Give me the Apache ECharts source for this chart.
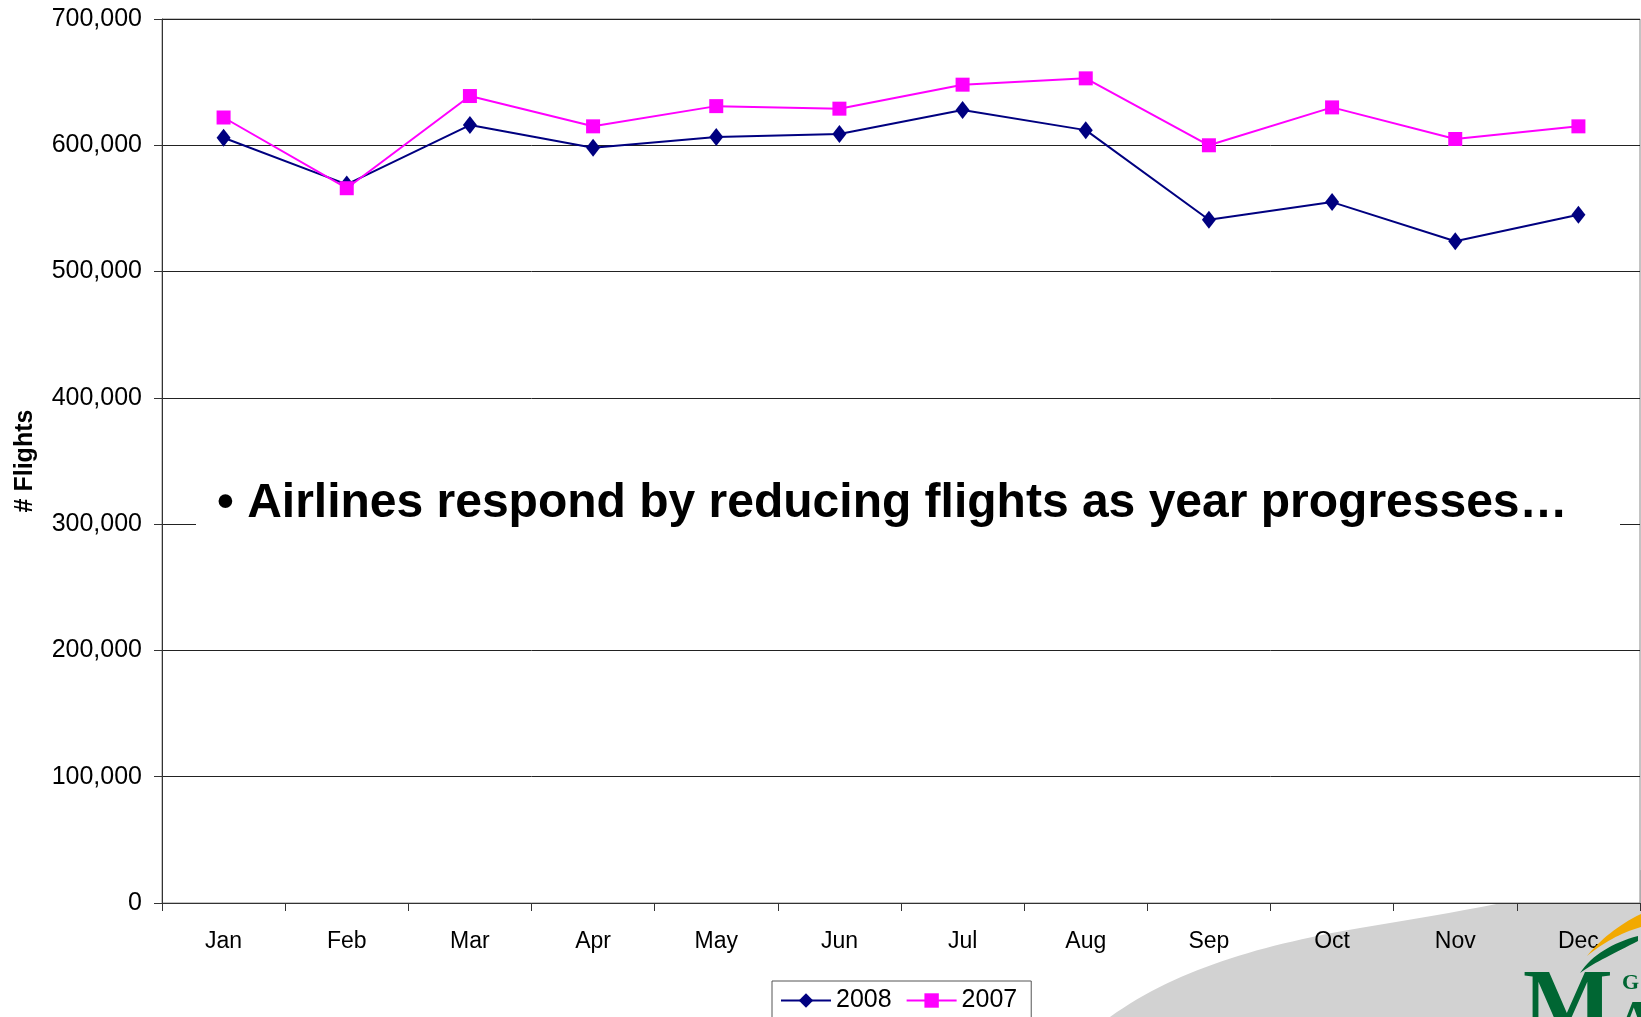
<!DOCTYPE html>
<html>
<head>
<meta charset="utf-8">
<script src="https://cdn.jsdelivr.net/npm/echarts@6/dist/echarts.min.js"></script>
<style>
    html, body { margin: 0; padding: 0; background: #fff; }
    #flights_con { width: 1641px; height: 1017px; }
</style>
</head>
<body>
<div id="flights_con"></div>
<script>
// months on the x axis
let months = ['Jan','Feb','Mar','Apr','May','Jun','Jul','Aug','Sep','Oct','Nov','Dec'];
// number of flights per month
let flights2008 = [606000, 569000, 616000, 598000, 606500, 609000, 628000, 612000, 541000, 555000, 524000, 545000];
let flights2007 = [622000, 566000, 639000, 615000, 631000, 629000, 648000, 653000, 600000, 630000, 605000, 615000];
let yTicks = [0, 100000, 200000, 300000, 400000, 500000, 600000, 700000];

let fontName = 'Liberation Sans, Arial, sans-serif';

// sample a cubic curve into points (only for the slide decoration)
function curve(p0, p1, p2, p3, n) {
    let pts = [];
    for (let i = 0; i <= n; i++) {
        let t = i / n, u = 1 - t;
        pts.push([
            u*u*u*p0[0] + 3*u*u*t*p1[0] + 3*u*t*t*p2[0] + t*t*t*p3[0],
            u*u*u*p0[1] + 3*u*u*t*p1[1] + 3*u*t*t*p2[1] + t*t*t*p3[1]
        ]);
    }
    return pts;
}
function crescent(a, b) {
    return a.concat(b.slice().reverse());
}

// grey slide swoosh, mostly hidden behind the white plot
let swoosh = curve([1110, 1017], [1175, 970], [1260, 945], [1360, 928], 30)
    .concat(curve([1360, 928], [1420, 918], [1480, 908], [1530, 897], 10))
    .concat([[1641, 870], [1641, 1017]]);
let goldArc = crescent(
    curve([1587, 956], [1600, 940], [1618, 925], [1641, 914], 16),
    curve([1587, 956], [1603, 943], [1620, 933], [1641, 927], 16)
);
let greenArc = crescent(
    curve([1580, 973], [1592, 955], [1612, 943], [1638, 936], 16),
    curve([1580, 973], [1595, 962], [1615, 953], [1638, 941], 16)
);

var flightsChart = echarts.init(document.getElementById('flights_con'));
const option = {
    animation: false,
    backgroundColor: '#fff',
    textStyle: { fontFamily: fontName },
    grid: {
        show: true,
        left: 162,
        right: 1,
        top: 19,
        bottom: 114,
        backgroundColor: '#fff',
        borderColor: '#888',
        borderWidth: 1,
        z: 1
    },
    legend: {
        left: 772,
        top: 981,
        data: ['2008', '2007'],
        itemWidth: 50,
        itemHeight: 18,
        itemGap: 14,
        padding: [7, 14, 30, 8],
        borderColor: '#555',
        borderWidth: 1,
        backgroundColor: '#fff',
        textStyle: { fontSize: 25, color: '#000', fontFamily: fontName }
    },
    xAxis: {
        type: 'category',
        data: months,
        boundaryGap: true,
        axisLine: { lineStyle: { color: '#333', width: 1 } },
        axisTick: { show: true, length: 8, inside: false, lineStyle: { color: '#333' } },
        axisLabel: { color: '#000', fontSize: 23, margin: 27, fontFamily: fontName },
        z: 3
    },
    yAxis: {
        type: 'value',
        min: yTicks[0],
        max: yTicks[yTicks.length - 1],
        interval: 100000,
        name: '# Flights',
        nameLocation: 'middle',
        nameGap: 124,
        nameRotate: 90,
        nameTextStyle: { fontSize: 25, fontWeight: 'bold', color: '#000', fontFamily: fontName },
        axisLine: { show: true, lineStyle: { color: '#333', width: 1 } },
        axisTick: { show: true, length: 8, lineStyle: { color: '#333' } },
        axisLabel: {
            color: '#000',
            fontSize: 25,
            margin: 20,
            fontFamily: fontName,
            formatter: function (v) { return v.toLocaleString('en-US'); }
        },
        splitLine: { show: true, lineStyle: { color: '#222', width: 1 } },
        z: 3
    },
    series: [
        {
            name: '2008',
            type: 'line',
            data: flights2008,
            symbol: 'diamond',
            symbolSize: [14, 18],
            lineStyle: { color: '#000080', width: 2 },
            itemStyle: { color: '#000080' },
            z: 4
        },
        {
            name: '2007',
            type: 'line',
            data: flights2007,
            symbol: 'rect',
            symbolSize: [14, 14],
            lineStyle: { color: '#ff00ff', width: 2 },
            itemStyle: { color: '#ff00ff' },
            z: 5
        }
    ],
    graphic: [
        {
            type: 'polygon',
            z: -10,
            shape: { points: swoosh },
            style: { fill: '#d2d2d2' }
        },
        // note box over the plot
        {
            type: 'rect',
            z: 50,
            shape: { x: 196, y: 458, width: 1424, height: 92 },
            style: { fill: '#fff' }
        },
        {
            type: 'text',
            z: 51,
            style: {
                x: 217,
                y: 504,
                text: '\u2022 Airlines respond by reducing flights as year progresses\u2026',
                font: 'bold 48px Liberation Sans',
                fill: '#000',
                verticalAlign: 'middle'
            }
        },
        // logo pieces in the corner
        {
            type: 'polygon',
            z: 100,
            shape: { points: goldArc },
            style: { fill: '#f2a900' }
        },
        {
            type: 'polygon',
            z: 100,
            shape: { points: greenArc },
            style: { fill: '#006633' }
        },
        {
            type: 'text',
            z: 100,
            style: {
                x: 1523,
                y: 963,
                text: 'M',
                font: 'bold 95px Liberation Serif',
                fill: '#006633',
                verticalAlign: 'top'
            }
        },
        {
            type: 'text',
            z: 100,
            style: {
                x: 1622,
                y: 972,
                text: 'G',
                font: 'bold 22px Liberation Serif',
                fill: '#006633',
                verticalAlign: 'top'
            }
        },
        {
            type: 'text',
            z: 100,
            style: {
                x: 1615,
                y: 995,
                text: 'A',
                font: 'bold 60px Liberation Serif',
                fill: '#006633',
                verticalAlign: 'top'
            }
        }
    ]
};
flightsChart.setOption(option);
window.addEventListener('resize', function () {
    flightsChart.resize();
});
</script>
</body>
</html>
